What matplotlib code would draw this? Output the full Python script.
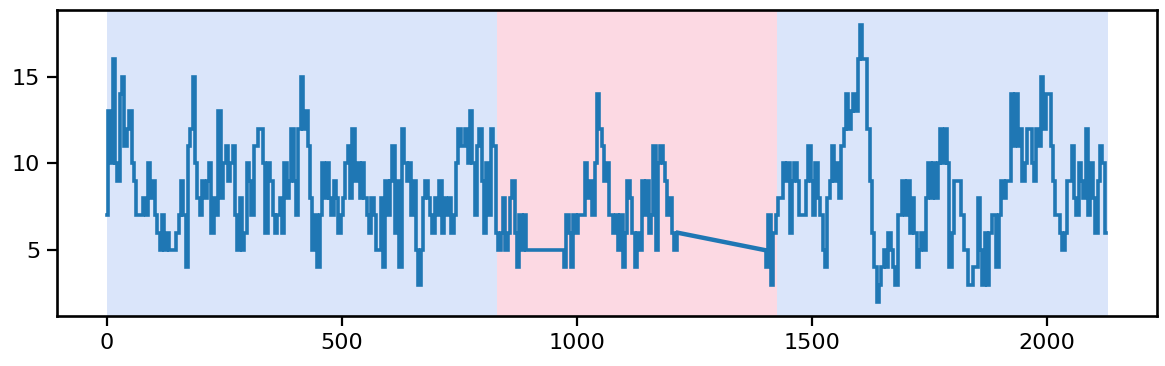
import numpy as np
import matplotlib
matplotlib.use("Agg")
import matplotlib.pyplot as plt

nan = np.nan

# one value every 5 steps (nan = no reading, line jumps across)
step = 5
values = [
    7, 13, 10, 16, 10, 9, 14, 15, 11, 12, 13, 10, 9, 7, 7, 7, 8, 7, 10, 8,
    9, 7, 6, 5, 7, 5, 6, 5, 5, 5, 6, 7, 9, 7, 4, 11, 12, 15, 10, 8,
    7, 9, 8, 9, 10, 6, 8, 7, 13, 8, 10, 11, 9, 10, 11, 7, 5, 8, 5, 6,
    10, 9, 7, 11, 11, 12, 12, 10, 6, 10, 9, 7, 6, 7, 8, 6, 10, 8, 9, 12,
    9, 7, 12, 15, 12, 13, 11, 8, 5, 7, 4, 7, 10, 8, 10, 8, 7, 9, 8, 6,
    7, 8, 10, 11, 8, 12, 9, 10, 8, 10, 8, 7, 6, 8, 7, 5, 5, 8, 4, 9,
    7, 9, 11, 6, 9, 4, 12, 10, 9, 10, 7, 9, 5, 3, 5, 8, 9, 8, 7, 6,
    8, 7, 9, 6, 8, 7, 8, 6, 7, 10, 12, 11, 11, 12, 10, 13, 10, 7, 11, 12,
    9, 6, 10, 7, 12, 11, 6, 5, 6, 8, 5, 6, 8, 9, 6, 4, 7, 5, 7, 5,
    5, 5, 5, 5, 5, 5, 5, 5, 5, 5, 5, 5, 5, 5, 5, 4, 7, 6, 4, 7,
    6, 7, 7, 7, 10, 8, 9, 7, 10, 14, 12, 11, 9, 10, 7, 7, 6, 7, 5, 7,
    4, 6, 9, 8, 6, 4, 6, 5, 9, 7, 9, 6, 7, 11, 5, 10, 11, 10, 9, 7,
    8, 6, 5, 6, nan, nan, nan, nan, nan, nan, nan, nan, nan, nan, nan, nan, nan, nan, nan, nan,
    nan, nan, nan, nan, nan, nan, nan, nan, nan, nan, nan, nan, nan, nan, nan, nan, nan, nan, nan, nan,
    5, 4, 7, 3, 6, 7, 8, 8, 10, 9, 10, 6, 9, 10, 9, 7, 7, 7, 9, 11,
    9, 7, 10, 8, 7, 5, 4, 8, 9, 11, 9, 10, 8, 11, 12, 14, 12, 13, 14, 13,
    16, 18, 16, 16, 12, 9, 6, 4, 2, 3, 4, 5, 4, 6, 5, 4, 3, 7, 7, 9,
    7, 9, 6, 8, 6, 4, 5, 6, 5, 8, 10, 8, 10, 8, 10, 12, 10, 12, 10, 4,
    6, 9, 9, 9, 7, 5, 5, 3, 3, 4, 4, 8, 5, 3, 6, 3, 6, 7, 7, 4,
    7, 9, 8, 9, 9, 14, 11, 14, 11, 12, 9, 10, 12, 12, 10, 9, 12, 11, 15, 12,
    14, 14, 11, 9, 7, 7, 6, 5, 6, 9, 9, 11, 8, 7, 10, 9, 8, 12, 7, 10,
    8, 6, 9, 11, 10, 6,
]

# shaded phases: (start, end, colour)
phase_starts = [0, 830, 1425]
phase_ends = [830, 1425, 2130]
phase_colors = ["#dae5fa", "#fcd9e3", "#dae5fa"]

x = np.arange(len(values)) * step
y = np.array(values, dtype=float)
valid = ~np.isnan(y)

fig = plt.figure(figsize=(11.65, 3.66), dpi=100)
ax = fig.add_axes([57 / 1165, 50 / 366, 1100 / 1165, 306 / 366])

for start, end, color in zip(phase_starts, phase_ends, phase_colors):
    ax.axvspan(start, end, color=color, lw=0, zorder=0)

line_color = "#1f77b4"
# runs of readings drawn as steps, gaps bridged by a straight line
idx = np.flatnonzero(valid)
breaks = np.flatnonzero(np.diff(idx) > 1)
runs = np.split(idx, breaks + 1)
for run in runs:
    ax.plot(x[run], y[run], color=line_color, lw=2.6, drawstyle="steps-mid",
            solid_joinstyle="miter", zorder=2)
for a, b in zip(runs[:-1], runs[1:]):
    ax.plot(x[[a[-1], b[0]]], y[[a[-1], b[0]]], color=line_color, lw=3.2, zorder=2)

ax.set_xlim(-106, 2234)
ax.set_ylim(1.2, 18.85)
ax.set_xticks([0, 500, 1000, 1500, 2000])
ax.set_yticks([5, 10, 15])
ax.tick_params(labelsize=16, length=7, width=1.6, pad=5)
for spine in ax.spines.values():
    spine.set_linewidth(1.9)

fig.savefig("out.png", dpi=100)
